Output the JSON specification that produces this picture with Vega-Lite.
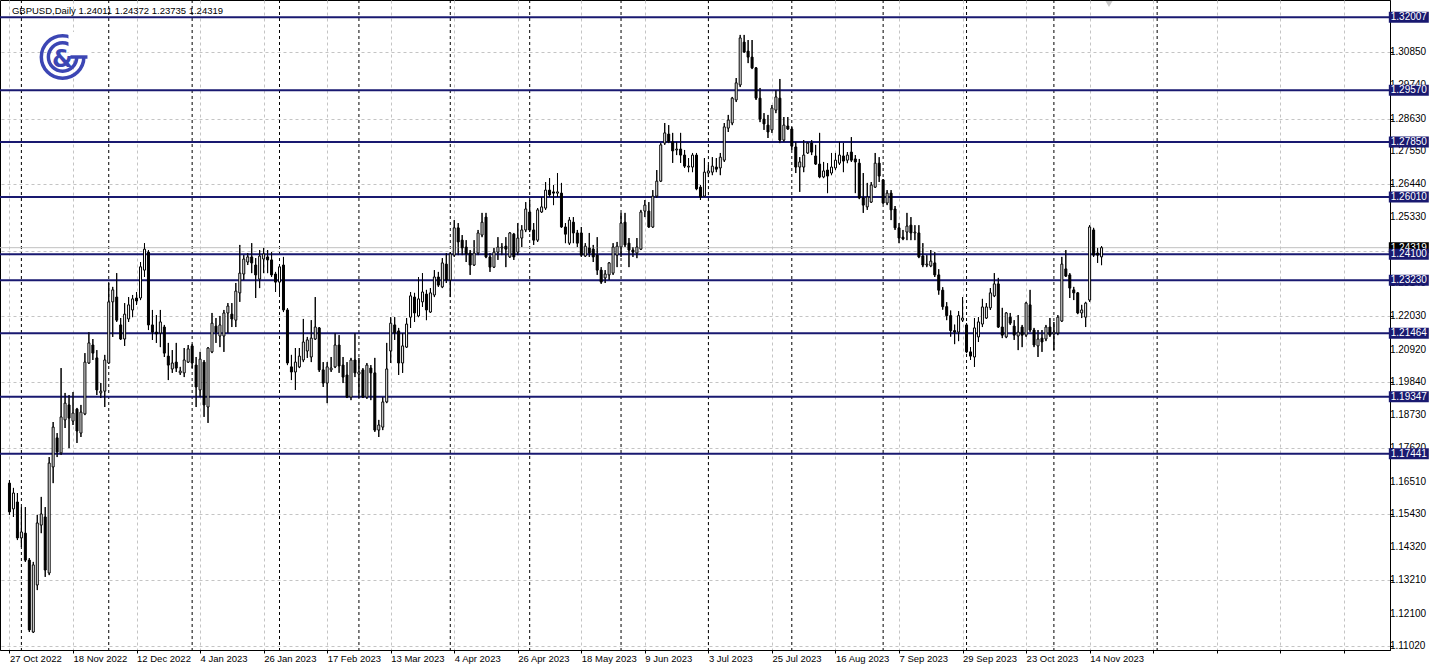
{
"$schema":"https://vega.github.io/schema/vega-lite/v6.json",
"width":1390,"height":650,
"autosize":{"type":"none"},
"padding":{"left":0,"top":0,"right":48,"bottom":21},
"background":"white",
"config":{"view":{"stroke":"black","strokeWidth":1},"font":"Liberation Sans",
 "axis":{"labelOverlap":false,"labelBound":false,"labelFlush":false}},
"datasets":{
"levels":[{"p":1.32007},{"p":1.2957},{"p":1.2785},{"p":1.2601},{"p":1.241},{"p":1.2323},{"p":1.21464},{"p":1.19347},{"p":1.17441}],
"yticks":[{"v":1.1102},{"v":1.121},{"v":1.1321},{"v":1.1432},{"v":1.1543},{"v":1.1651},{"v":1.1762},{"v":1.1873},{"v":1.1984},{"v":1.2092},{"v":1.2203},{"v":1.2314},{"v":1.2421},{"v":1.2533},{"v":1.2644},{"v":1.2755},{"v":1.2863},{"v":1.2974},{"v":1.3085},{"v":1.3196}],
"seps":[{"i":3},{"i":25},{"i":46},{"i":68},{"i":88},{"i":111},{"i":131},{"i":154},{"i":176},{"i":197},{"i":220},{"i":241},{"i":263},{"i":289}],
"candles":[
{"i":0,"o":1.1646,"h":1.1656,"l":1.154,"c":1.155},
{"i":1,"o":1.156,"h":1.163,"l":1.1533,"c":1.1613},
{"i":2,"o":1.1583,"h":1.1613,"l":1.1456,"c":1.1463},
{"i":3,"o":1.1463,"h":1.1566,"l":1.1433,"c":1.1483},
{"i":4,"o":1.1479,"h":1.1566,"l":1.1383,"c":1.1389},
{"i":5,"o":1.1389,"h":1.1396,"l":1.1149,"c":1.1156},
{"i":6,"o":1.1149,"h":1.1383,"l":1.1146,"c":1.1373},
{"i":7,"o":1.1306,"h":1.154,"l":1.1289,"c":1.1513},
{"i":8,"o":1.1506,"h":1.16,"l":1.1479,"c":1.1543},
{"i":9,"o":1.1533,"h":1.1566,"l":1.1333,"c":1.1356},
{"i":10,"o":1.1346,"h":1.1733,"l":1.1339,"c":1.1713},
{"i":11,"o":1.17,"h":1.185,"l":1.1646,"c":1.1833},
{"i":12,"o":1.1797,"h":1.1813,"l":1.1733,"c":1.175},
{"i":13,"o":1.1747,"h":1.203,"l":1.174,"c":1.1867},
{"i":14,"o":1.1857,"h":1.1947,"l":1.183,"c":1.1913},
{"i":15,"o":1.1907,"h":1.194,"l":1.1763,"c":1.1863},
{"i":16,"o":1.1853,"h":1.195,"l":1.184,"c":1.188},
{"i":17,"o":1.1893,"h":1.1897,"l":1.178,"c":1.182},
{"i":18,"o":1.1813,"h":1.1907,"l":1.18,"c":1.1883},
{"i":19,"o":1.1877,"h":1.208,"l":1.1873,"c":1.205},
{"i":20,"o":1.2047,"h":1.215,"l":1.2044,"c":1.2114},
{"i":21,"o":1.2107,"h":1.2127,"l":1.2057,"c":1.208},
{"i":22,"o":1.2064,"h":1.209,"l":1.194,"c":1.1957},
{"i":23,"o":1.1947,"h":1.198,"l":1.193,"c":1.1953},
{"i":24,"o":1.1953,"h":1.2074,"l":1.19,"c":1.2057},
{"i":25,"o":1.2047,"h":1.2314,"l":1.2044,"c":1.2251},
{"i":26,"o":1.2251,"h":1.2301,"l":1.2134,"c":1.2291},
{"i":27,"o":1.2267,"h":1.2347,"l":1.2184,"c":1.219},
{"i":28,"o":1.2174,"h":1.2197,"l":1.2124,"c":1.2127},
{"i":29,"o":1.2127,"h":1.2247,"l":1.2104,"c":1.221},
{"i":30,"o":1.2194,"h":1.2267,"l":1.2184,"c":1.2241},
{"i":31,"o":1.2224,"h":1.2274,"l":1.22,"c":1.2261},
{"i":32,"o":1.2264,"h":1.2284,"l":1.2241,"c":1.2254},
{"i":33,"o":1.2264,"h":1.2384,"l":1.2257,"c":1.2368},
{"i":34,"o":1.2357,"h":1.2447,"l":1.2334,"c":1.2427},
{"i":35,"o":1.2417,"h":1.2424,"l":1.2157,"c":1.2174},
{"i":36,"o":1.2174,"h":1.2224,"l":1.2124,"c":1.215},
{"i":37,"o":1.215,"h":1.2207,"l":1.2114,"c":1.2144},
{"i":38,"o":1.2147,"h":1.2224,"l":1.21,"c":1.2184},
{"i":39,"o":1.2167,"h":1.2174,"l":1.2067,"c":1.208},
{"i":40,"o":1.207,"h":1.2114,"l":1.199,"c":1.204},
{"i":41,"o":1.2027,"h":1.209,"l":1.2014,"c":1.2047},
{"i":42,"o":1.205,"h":1.2114,"l":1.2017,"c":1.203},
{"i":43,"o":1.2014,"h":1.2034,"l":1.2007,"c":1.202},
{"i":44,"o":1.2014,"h":1.2097,"l":1.2,"c":1.2057},
{"i":45,"o":1.205,"h":1.2107,"l":1.2047,"c":1.2094},
{"i":46,"o":1.2104,"h":1.211,"l":1.203,"c":1.2047},
{"i":47,"o":1.204,"h":1.2067,"l":1.19,"c":1.1967},
{"i":48,"o":1.1957,"h":1.2084,"l":1.1933,"c":1.206},
{"i":49,"o":1.205,"h":1.2057,"l":1.1867,"c":1.1907},
{"i":50,"o":1.19,"h":1.21,"l":1.1847,"c":1.2097},
{"i":51,"o":1.2084,"h":1.2214,"l":1.208,"c":1.218},
{"i":52,"o":1.217,"h":1.2197,"l":1.2114,"c":1.215},
{"i":53,"o":1.2137,"h":1.2204,"l":1.21,"c":1.2174},
{"i":54,"o":1.2137,"h":1.2224,"l":1.2084,"c":1.2214},
{"i":55,"o":1.2214,"h":1.2247,"l":1.2147,"c":1.2237},
{"i":56,"o":1.221,"h":1.2247,"l":1.2167,"c":1.2194},
{"i":57,"o":1.219,"h":1.2314,"l":1.2167,"c":1.2287},
{"i":58,"o":1.2281,"h":1.2441,"l":1.2251,"c":1.2347},
{"i":59,"o":1.2344,"h":1.2407,"l":1.2324,"c":1.2394},
{"i":60,"o":1.2384,"h":1.2414,"l":1.2374,"c":1.2401},
{"i":61,"o":1.2401,"h":1.2447,"l":1.2347,"c":1.2381},
{"i":62,"o":1.2374,"h":1.2397,"l":1.2264,"c":1.2341},
{"i":63,"o":1.2327,"h":1.2424,"l":1.2297,"c":1.2404},
{"i":64,"o":1.2394,"h":1.2431,"l":1.2347,"c":1.2411},
{"i":65,"o":1.2401,"h":1.2424,"l":1.2347,"c":1.2391},
{"i":66,"o":1.2391,"h":1.2417,"l":1.2334,"c":1.2341},
{"i":67,"o":1.2344,"h":1.2351,"l":1.2284,"c":1.2317},
{"i":68,"o":1.2317,"h":1.2374,"l":1.2274,"c":1.2368},
{"i":69,"o":1.2374,"h":1.2401,"l":1.2217,"c":1.2224},
{"i":70,"o":1.2224,"h":1.223,"l":1.204,"c":1.2047},
{"i":71,"o":1.2034,"h":1.2074,"l":1.199,"c":1.2017},
{"i":72,"o":1.2017,"h":1.2097,"l":1.1957,"c":1.205},
{"i":73,"o":1.2034,"h":1.2097,"l":1.203,"c":1.207},
{"i":74,"o":1.2057,"h":1.2194,"l":1.205,"c":1.2117},
{"i":75,"o":1.2087,"h":1.2134,"l":1.2064,"c":1.2124},
{"i":76,"o":1.2067,"h":1.219,"l":1.205,"c":1.213},
{"i":77,"o":1.2127,"h":1.2267,"l":1.2124,"c":1.2167},
{"i":78,"o":1.2164,"h":1.2167,"l":1.2017,"c":1.2024},
{"i":79,"o":1.2024,"h":1.205,"l":1.1967,"c":1.198},
{"i":80,"o":1.198,"h":1.205,"l":1.1913,"c":1.2034},
{"i":81,"o":1.2024,"h":1.2067,"l":1.2017,"c":1.203},
{"i":82,"o":1.2034,"h":1.2147,"l":1.203,"c":1.2107},
{"i":83,"o":1.2107,"h":1.214,"l":1.2014,"c":1.2037},
{"i":84,"o":1.204,"h":1.2067,"l":1.198,"c":1.2},
{"i":85,"o":1.2007,"h":1.205,"l":1.193,"c":1.1933},
{"i":86,"o":1.1933,"h":1.2064,"l":1.1923,"c":1.2057},
{"i":87,"o":1.2057,"h":1.2147,"l":1.2,"c":1.2014},
{"i":88,"o":1.201,"h":1.2064,"l":1.193,"c":1.2017},
{"i":89,"o":1.2024,"h":1.203,"l":1.193,"c":1.1933},
{"i":90,"o":1.1933,"h":1.2047,"l":1.1927,"c":1.204},
{"i":91,"o":1.203,"h":1.204,"l":1.1923,"c":1.2014},
{"i":92,"o":1.2014,"h":1.2064,"l":1.1817,"c":1.1823},
{"i":93,"o":1.1823,"h":1.1857,"l":1.18,"c":1.184},
{"i":94,"o":1.1833,"h":1.1933,"l":1.1823,"c":1.1917},
{"i":95,"o":1.1917,"h":1.2114,"l":1.1913,"c":1.2027},
{"i":96,"o":1.2087,"h":1.22,"l":1.2047,"c":1.218},
{"i":97,"o":1.2174,"h":1.22,"l":1.2124,"c":1.2147},
{"i":98,"o":1.2154,"h":1.2164,"l":1.2007,"c":1.2047},
{"i":99,"o":1.2047,"h":1.2147,"l":1.2014,"c":1.2104},
{"i":100,"o":1.21,"h":1.2197,"l":1.2097,"c":1.2177},
{"i":101,"o":1.22,"h":1.2284,"l":1.2164,"c":1.2271},
{"i":102,"o":1.2267,"h":1.2281,"l":1.2184,"c":1.2214},
{"i":103,"o":1.2204,"h":1.2334,"l":1.22,"c":1.2261},
{"i":104,"o":1.2251,"h":1.2347,"l":1.2234,"c":1.2284},
{"i":105,"o":1.2277,"h":1.2291,"l":1.219,"c":1.2224},
{"i":106,"o":1.2217,"h":1.2297,"l":1.2214,"c":1.2281},
{"i":107,"o":1.2274,"h":1.2357,"l":1.2267,"c":1.2334},
{"i":108,"o":1.2334,"h":1.2351,"l":1.2301,"c":1.2307},
{"i":109,"o":1.2301,"h":1.2397,"l":1.2297,"c":1.2381},
{"i":110,"o":1.2377,"h":1.2414,"l":1.2314,"c":1.2324},
{"i":111,"o":1.2324,"h":1.2417,"l":1.2267,"c":1.2411},
{"i":112,"o":1.2407,"h":1.2524,"l":1.2401,"c":1.2498},
{"i":113,"o":1.2498,"h":1.2514,"l":1.2407,"c":1.2451},
{"i":114,"o":1.2457,"h":1.2474,"l":1.2407,"c":1.2431},
{"i":115,"o":1.2434,"h":1.2457,"l":1.2384,"c":1.2411},
{"i":116,"o":1.2414,"h":1.2424,"l":1.2341,"c":1.2374},
{"i":117,"o":1.2374,"h":1.2457,"l":1.2371,"c":1.2414},
{"i":118,"o":1.2414,"h":1.2491,"l":1.2407,"c":1.2481},
{"i":119,"o":1.2474,"h":1.2548,"l":1.2467,"c":1.2517},
{"i":120,"o":1.2534,"h":1.2548,"l":1.2397,"c":1.2401},
{"i":121,"o":1.2401,"h":1.2414,"l":1.2351,"c":1.2367},
{"i":122,"o":1.2367,"h":1.2431,"l":1.2364,"c":1.2417},
{"i":123,"o":1.2417,"h":1.2467,"l":1.2391,"c":1.2434},
{"i":124,"o":1.2431,"h":1.2447,"l":1.2407,"c":1.2434},
{"i":125,"o":1.2437,"h":1.2467,"l":1.2367,"c":1.2427},
{"i":126,"o":1.2401,"h":1.2484,"l":1.2398,"c":1.2481},
{"i":127,"o":1.2477,"h":1.2481,"l":1.2391,"c":1.2401},
{"i":128,"o":1.2417,"h":1.2514,"l":1.2407,"c":1.2464},
{"i":129,"o":1.2464,"h":1.2507,"l":1.2434,"c":1.2491},
{"i":130,"o":1.2491,"h":1.2584,"l":1.2484,"c":1.2561},
{"i":131,"o":1.2551,"h":1.2591,"l":1.2484,"c":1.2491},
{"i":132,"o":1.2491,"h":1.2514,"l":1.2441,"c":1.2457},
{"i":133,"o":1.2457,"h":1.2564,"l":1.2451,"c":1.2558},
{"i":134,"o":1.2551,"h":1.2601,"l":1.2548,"c":1.2568},
{"i":135,"o":1.2564,"h":1.2651,"l":1.2558,"c":1.2624},
{"i":136,"o":1.2624,"h":1.2664,"l":1.2601,"c":1.2608},
{"i":137,"o":1.2618,"h":1.2641,"l":1.2574,"c":1.2614},
{"i":138,"o":1.2614,"h":1.2681,"l":1.2601,"c":1.2618},
{"i":139,"o":1.2614,"h":1.2648,"l":1.2498,"c":1.2501},
{"i":140,"o":1.2501,"h":1.2514,"l":1.2447,"c":1.2477},
{"i":141,"o":1.2447,"h":1.2534,"l":1.2441,"c":1.2524},
{"i":142,"o":1.2517,"h":1.2534,"l":1.2447,"c":1.2481},
{"i":143,"o":1.2481,"h":1.2491,"l":1.2434,"c":1.2447},
{"i":144,"o":1.2481,"h":1.2501,"l":1.2401,"c":1.2407},
{"i":145,"o":1.2404,"h":1.2447,"l":1.2401,"c":1.2437},
{"i":146,"o":1.2431,"h":1.2481,"l":1.2401,"c":1.2414},
{"i":147,"o":1.2427,"h":1.2441,"l":1.2384,"c":1.2401},
{"i":148,"o":1.2407,"h":1.2467,"l":1.2341,"c":1.2357},
{"i":149,"o":1.2357,"h":1.2367,"l":1.2311,"c":1.2317},
{"i":150,"o":1.2331,"h":1.2357,"l":1.2314,"c":1.2344},
{"i":151,"o":1.2341,"h":1.2384,"l":1.2324,"c":1.2381},
{"i":152,"o":1.2347,"h":1.2447,"l":1.2341,"c":1.2434},
{"i":153,"o":1.2407,"h":1.2451,"l":1.2367,"c":1.2437},
{"i":154,"o":1.2434,"h":1.2548,"l":1.2401,"c":1.2514},
{"i":155,"o":1.2517,"h":1.2548,"l":1.2434,"c":1.2441},
{"i":156,"o":1.2447,"h":1.2464,"l":1.2367,"c":1.2424},
{"i":157,"o":1.2424,"h":1.2434,"l":1.2401,"c":1.2417},
{"i":158,"o":1.2414,"h":1.2464,"l":1.2397,"c":1.2434},
{"i":159,"o":1.2427,"h":1.2558,"l":1.2424,"c":1.2551},
{"i":160,"o":1.2554,"h":1.2591,"l":1.2534,"c":1.2574},
{"i":161,"o":1.2554,"h":1.2584,"l":1.2498,"c":1.2501},
{"i":162,"o":1.2501,"h":1.2624,"l":1.2498,"c":1.2604},
{"i":163,"o":1.2604,"h":1.2691,"l":1.2598,"c":1.2654},
{"i":164,"o":1.2654,"h":1.2781,"l":1.2651,"c":1.2775},
{"i":165,"o":1.2781,"h":1.2848,"l":1.2775,"c":1.2815},
{"i":166,"o":1.2811,"h":1.2841,"l":1.2781,"c":1.2785},
{"i":167,"o":1.2785,"h":1.2815,"l":1.2715,"c":1.2755},
{"i":168,"o":1.2758,"h":1.2785,"l":1.2741,"c":1.2761},
{"i":169,"o":1.2761,"h":1.2815,"l":1.2715,"c":1.2741},
{"i":170,"o":1.2741,"h":1.2758,"l":1.2698,"c":1.2704},
{"i":171,"o":1.2701,"h":1.2731,"l":1.2684,"c":1.2704},
{"i":172,"o":1.2701,"h":1.2748,"l":1.2684,"c":1.2741},
{"i":173,"o":1.2741,"h":1.2748,"l":1.2624,"c":1.2628},
{"i":174,"o":1.2634,"h":1.2641,"l":1.2591,"c":1.2601},
{"i":175,"o":1.2604,"h":1.2731,"l":1.2601,"c":1.2684},
{"i":176,"o":1.2681,"h":1.2708,"l":1.2668,"c":1.2688},
{"i":177,"o":1.2684,"h":1.2734,"l":1.2674,"c":1.2704},
{"i":178,"o":1.2701,"h":1.2731,"l":1.2684,"c":1.2694},
{"i":179,"o":1.2698,"h":1.2748,"l":1.2674,"c":1.2734},
{"i":180,"o":1.2724,"h":1.2848,"l":1.2718,"c":1.2835},
{"i":181,"o":1.2831,"h":1.2875,"l":1.2818,"c":1.2858},
{"i":182,"o":1.2848,"h":1.2935,"l":1.2841,"c":1.2931},
{"i":183,"o":1.2925,"h":1.2998,"l":1.2918,"c":1.2982},
{"i":184,"o":1.2975,"h":1.3142,"l":1.2968,"c":1.3132},
{"i":185,"o":1.3118,"h":1.3142,"l":1.3082,"c":1.3085},
{"i":186,"o":1.3088,"h":1.3125,"l":1.3048,"c":1.3068},
{"i":187,"o":1.3068,"h":1.3125,"l":1.3028,"c":1.3032},
{"i":188,"o":1.3032,"h":1.3035,"l":1.2925,"c":1.2931},
{"i":189,"o":1.2931,"h":1.2965,"l":1.2851,"c":1.2861},
{"i":190,"o":1.2861,"h":1.2881,"l":1.2825,"c":1.2845},
{"i":191,"o":1.2841,"h":1.2875,"l":1.2798,"c":1.2818},
{"i":192,"o":1.2825,"h":1.2908,"l":1.2815,"c":1.2898},
{"i":193,"o":1.2891,"h":1.2958,"l":1.2881,"c":1.2935},
{"i":194,"o":1.2931,"h":1.2995,"l":1.2781,"c":1.2791},
{"i":195,"o":1.2791,"h":1.2868,"l":1.2785,"c":1.2841},
{"i":196,"o":1.2838,"h":1.2868,"l":1.2825,"c":1.2828},
{"i":197,"o":1.2828,"h":1.2835,"l":1.2758,"c":1.2771},
{"i":198,"o":1.2768,"h":1.2785,"l":1.2681,"c":1.2701},
{"i":199,"o":1.2701,"h":1.2734,"l":1.2618,"c":1.2718},
{"i":200,"o":1.2701,"h":1.2791,"l":1.2684,"c":1.2741},
{"i":201,"o":1.2748,"h":1.2785,"l":1.2745,"c":1.2781},
{"i":202,"o":1.2781,"h":1.2791,"l":1.2741,"c":1.2751},
{"i":203,"o":1.2738,"h":1.2775,"l":1.2708,"c":1.2711},
{"i":204,"o":1.2711,"h":1.2815,"l":1.2664,"c":1.2668},
{"i":205,"o":1.2668,"h":1.2718,"l":1.2664,"c":1.2688},
{"i":206,"o":1.2691,"h":1.2714,"l":1.2614,"c":1.2671},
{"i":207,"o":1.2681,"h":1.2748,"l":1.2674,"c":1.2701},
{"i":208,"o":1.2698,"h":1.2748,"l":1.2691,"c":1.2724},
{"i":209,"o":1.2714,"h":1.2785,"l":1.2708,"c":1.2741},
{"i":210,"o":1.2738,"h":1.2781,"l":1.2684,"c":1.2721},
{"i":211,"o":1.2724,"h":1.2751,"l":1.2714,"c":1.2741},
{"i":212,"o":1.2751,"h":1.2801,"l":1.2718,"c":1.2724},
{"i":213,"o":1.2728,"h":1.2741,"l":1.2614,"c":1.2718},
{"i":214,"o":1.2714,"h":1.2728,"l":1.2594,"c":1.2598},
{"i":215,"o":1.2598,"h":1.2681,"l":1.2548,"c":1.2574},
{"i":216,"o":1.2568,"h":1.2648,"l":1.2558,"c":1.2601},
{"i":217,"o":1.2584,"h":1.2651,"l":1.2581,"c":1.2641},
{"i":218,"o":1.2634,"h":1.2748,"l":1.2631,"c":1.2714},
{"i":219,"o":1.2714,"h":1.2734,"l":1.2651,"c":1.2671},
{"i":220,"o":1.2658,"h":1.2661,"l":1.2578,"c":1.2581},
{"i":221,"o":1.2581,"h":1.2624,"l":1.2574,"c":1.2614},
{"i":222,"o":1.2614,"h":1.2624,"l":1.2524,"c":1.2558},
{"i":223,"o":1.2561,"h":1.2571,"l":1.2491,"c":1.2498},
{"i":224,"o":1.2498,"h":1.2514,"l":1.2447,"c":1.2464},
{"i":225,"o":1.2467,"h":1.2491,"l":1.2457,"c":1.2461},
{"i":226,"o":1.2484,"h":1.2548,"l":1.2457,"c":1.2504},
{"i":227,"o":1.2507,"h":1.2534,"l":1.2457,"c":1.2481},
{"i":228,"o":1.2481,"h":1.2507,"l":1.2457,"c":1.2484},
{"i":229,"o":1.2481,"h":1.2507,"l":1.2397,"c":1.2401},
{"i":230,"o":1.2404,"h":1.2447,"l":1.2367,"c":1.2374},
{"i":231,"o":1.2374,"h":1.2407,"l":1.2367,"c":1.2377},
{"i":232,"o":1.2371,"h":1.2424,"l":1.2367,"c":1.2387},
{"i":233,"o":1.2381,"h":1.2417,"l":1.2334,"c":1.2341},
{"i":234,"o":1.2341,"h":1.236,"l":1.2275,"c":1.229},
{"i":235,"o":1.229,"h":1.23,"l":1.2225,"c":1.2235},
{"i":236,"o":1.2235,"h":1.225,"l":1.219,"c":1.2205},
{"i":237,"o":1.2205,"h":1.2222,"l":1.2135,"c":1.2155},
{"i":238,"o":1.2155,"h":1.2175,"l":1.211,"c":1.215},
{"i":239,"o":1.215,"h":1.222,"l":1.212,"c":1.2205},
{"i":240,"o":1.219,"h":1.2267,"l":1.2184,"c":1.2197},
{"i":241,"o":1.2174,"h":1.218,"l":1.208,"c":1.2084},
{"i":242,"o":1.2084,"h":1.21,"l":1.2057,"c":1.207},
{"i":243,"o":1.2067,"h":1.2197,"l":1.2034,"c":1.2164},
{"i":244,"o":1.2134,"h":1.22,"l":1.2117,"c":1.2184},
{"i":245,"o":1.2177,"h":1.2261,"l":1.2167,"c":1.2234},
{"i":246,"o":1.2197,"h":1.2247,"l":1.2194,"c":1.2234},
{"i":247,"o":1.2231,"h":1.2297,"l":1.2224,"c":1.2281},
{"i":248,"o":1.2271,"h":1.2347,"l":1.2267,"c":1.2311},
{"i":249,"o":1.2311,"h":1.2331,"l":1.2164,"c":1.2167},
{"i":250,"o":1.2167,"h":1.2231,"l":1.213,"c":1.214},
{"i":251,"o":1.2134,"h":1.2217,"l":1.213,"c":1.2214},
{"i":252,"o":1.22,"h":1.2214,"l":1.2174,"c":1.218},
{"i":253,"o":1.217,"h":1.219,"l":1.2124,"c":1.214},
{"i":254,"o":1.2137,"h":1.2207,"l":1.209,"c":1.215},
{"i":255,"o":1.2167,"h":1.2174,"l":1.21,"c":1.214},
{"i":256,"o":1.214,"h":1.2251,"l":1.2134,"c":1.2247},
{"i":257,"o":1.2241,"h":1.2291,"l":1.215,"c":1.2157},
{"i":258,"o":1.2157,"h":1.2164,"l":1.21,"c":1.2107},
{"i":259,"o":1.2104,"h":1.2157,"l":1.2067,"c":1.2127},
{"i":260,"o":1.213,"h":1.2157,"l":1.2084,"c":1.2117},
{"i":261,"o":1.2127,"h":1.2174,"l":1.212,"c":1.2167},
{"i":262,"o":1.2167,"h":1.2197,"l":1.2134,"c":1.214},
{"i":263,"o":1.2144,"h":1.2184,"l":1.209,"c":1.215},
{"i":264,"o":1.2147,"h":1.2207,"l":1.214,"c":1.22},
{"i":265,"o":1.2187,"h":1.2401,"l":1.2184,"c":1.2377},
{"i":266,"o":1.2361,"h":1.2424,"l":1.2334,"c":1.2337},
{"i":267,"o":1.2341,"h":1.2347,"l":1.2264,"c":1.2297},
{"i":268,"o":1.2291,"h":1.2301,"l":1.2257,"c":1.2281},
{"i":269,"o":1.2281,"h":1.2284,"l":1.221,"c":1.2214},
{"i":270,"o":1.2214,"h":1.2241,"l":1.2197,"c":1.2224},
{"i":271,"o":1.22,"h":1.2251,"l":1.2167,"c":1.2247},
{"i":272,"o":1.2257,"h":1.2507,"l":1.2251,"c":1.2501},
{"i":273,"o":1.2491,"h":1.2498,"l":1.2401,"c":1.2407},
{"i":274,"o":1.2414,"h":1.2431,"l":1.2381,"c":1.2407},
{"i":275,"o":1.24011,"h":1.24372,"l":1.23735,"c":1.24319}
]},
"layer":[
{"data":{"name":"candles"},"mark":{"type":"rule","color":"black","strokeWidth":1},
 "encoding":{
  "x":{"field":"i","type":"quantitative","scale":{"domain":[-1.125,346.375],"nice":false,"zero":false},
   "axis":{"values":[0,8,16,24,32,40,48,56,64,72,80,88,96,104,112,120,128,136,144,152,160,168,176,184,192,200,208,216,224,232,240,248,256,264,272,280,288,296,304,312,320,328,336,344],
    "labelExpr":"datum.value % 16 == 0 && datum.value <= 272 ? ['27 Oct 2022','18 Nov 2022','12 Dec 2022','4 Jan 2023','26 Jan 2023','17 Feb 2023','13 Mar 2023','4 Apr 2023','26 Apr 2023','18 May 2023','9 Jun 2023','3 Jul 2023','25 Jul 2023','16 Aug 2023','7 Sep 2023','29 Sep 2023','23 Oct 2023','14 Nov 2023'][datum.value/16] : ''",
    "labelAlign":"left","labelBaseline":"top","labelPadding":0,"labelFont":"Liberation Sans","labelFontSize":9.5,"labelColor":"black",
    "labelOverlap":false,"labelFlush":false,"labelBound":false,"tickSize":3,"tickColor":"black","domainColor":"black",
    "grid":true,"gridColor":"#c4c4c4","gridDash":[3,3],"gridWidth":1,"title":null}},
  "y":{"field":"l","type":"quantitative","scale":{"domain":[1.1089,1.32586],"nice":false,"zero":false},
   "axis":{"orient":"right","values":[1.1102,1.121,1.1321,1.1432,1.1543,1.1651,1.1762,1.1873,1.1984,1.2092,1.2203,1.2314,1.2421,1.2533,1.2644,1.2755,1.2863,1.2974,1.3085,1.3196],
    "labels":false,"tickSize":3,"tickColor":"black","domainColor":"black",
    "grid":true,"gridColor":"#c4c4c4","gridDash":[3,3],"gridWidth":1,"title":null}},
  "y2":{"field":"h"}}},
{"data":{"name":"seps"},"mark":{"type":"rule","color":"black","strokeWidth":1,"strokeDash":[3,3]},
 "encoding":{"x":{"field":"i","type":"quantitative","title":null}}},
{"data":{"name":"levels"},"mark":{"type":"rule","color":"#191970","strokeWidth":2},
 "encoding":{"y":{"field":"p","type":"quantitative","title":null}}},
{"data":{"name":"candles"},"transform":[{"filter":"datum.i == 275"}],"mark":{"type":"rule","color":"#c0c0c0","strokeWidth":1},
 "encoding":{"y":{"field":"c","type":"quantitative","title":null}}},
{"data":{"name":"candles"},"mark":{"type":"rule","color":"black","strokeWidth":1},
 "encoding":{
  "x":{"field":"i","type":"quantitative","title":null},
  "y":{"field":"l","type":"quantitative","title":null},
  "y2":{"field":"h"}}},
{"data":{"name":"candles"},"mark":{"type":"bar","size":2,"strokeWidth":1,"stroke":"black"},
 "encoding":{
  "x":{"field":"i","type":"quantitative","title":null},
  "y":{"field":"o","type":"quantitative","title":null},
  "y2":{"field":"c"},
  "fill":{"condition":{"test":"datum.c >= datum.o","value":"white"},"value":"black"}}},
{"data":{"name":"yticks"},"mark":{"type":"text","color":"black","font":"Liberation Sans","fontSize":10,"align":"left","baseline":"middle"},
 "encoding":{"x":{"datum":347.625,"type":"quantitative","title":null},
  "y":{"field":"v","type":"quantitative","title":null},
  "text":{"field":"v","format":".5f"}}},
{"data":{"name":"candles"},"transform":[{"filter":"datum.i == 275"}],"mark":{"type":"tick","orient":"horizontal","size":40,"thickness":11,"color":"black","opacity":1},
 "encoding":{"x":{"datum":352.375,"type":"quantitative","title":null},
  "y":{"field":"c","type":"quantitative","title":null}}},
{"data":{"name":"candles"},"transform":[{"filter":"datum.i == 275"}],"mark":{"type":"text","color":"white","font":"Liberation Sans","fontSize":10,"align":"center","baseline":"middle"},
 "encoding":{"x":{"datum":352.375,"type":"quantitative","title":null},
  "y":{"field":"c","type":"quantitative","title":null},
  "text":{"field":"c","format":".5f"}}},
{"data":{"name":"levels"},"mark":{"type":"tick","orient":"horizontal","size":40,"thickness":11,"color":"#191970","opacity":1},
 "encoding":{"x":{"datum":352.375,"type":"quantitative","title":null},
  "y":{"field":"p","type":"quantitative","title":null}}},
{"data":{"name":"levels"},"mark":{"type":"text","color":"white","font":"Liberation Sans","fontSize":10,"align":"center","baseline":"middle"},
 "encoding":{"x":{"datum":352.375,"type":"quantitative","title":null},
  "y":{"field":"p","type":"quantitative","title":null},
  "text":{"field":"p","format":".5f"}}},
{"data":{"values":[{"t":"GBPUSD,Daily  1.24011 1.24372 1.23735 1.24319"}]},"mark":{"type":"text","color":"black","font":"Liberation Sans","fontSize":9.5,"align":"left","baseline":"middle"},
 "encoding":{"x":{"datum":0.625,"type":"quantitative","title":null},
  "y":{"datum":1.32218,"type":"quantitative","title":null},
  "text":{"field":"t"}}},
{"data":{"values":[{"logo":"outer"}]},"mark":{"type":"point","shape":"circle","size":1810,"filled":false,"stroke":"#3c46b4","strokeWidth":3.5,"opacity":1},
 "encoding":{"x":{"datum":13.375,"type":"quantitative","title":null},
  "y":{"datum":1.30683,"type":"quantitative","title":null}}},
{"data":{"values":[{"logo":"inner"}]},"mark":{"type":"point","shape":"circle","size":804,"filled":false,"stroke":"#3c46b4","strokeWidth":3.5,"opacity":1},
 "encoding":{"x":{"datum":13.375,"type":"quantitative","title":null},
  "y":{"datum":1.30683,"type":"quantitative","title":null}}},
{"data":{"values":[{"logo":"cut"}]},"mark":{"type":"tick","orient":"horizontal","size":22,"thickness":24,"color":"white","opacity":1},
 "encoding":{"x":{"datum":17.625,"type":"quantitative","title":null},
  "y":{"datum":1.31117,"type":"quantitative","title":null}}},
{"data":{"values":[{"logo":"bar"}]},"mark":{"type":"tick","orient":"horizontal","size":17,"thickness":3.5,"color":"#3c46b4","opacity":1},
 "encoding":{"x":{"datum":17.5,"type":"quantitative","title":null},
  "y":{"datum":1.30683,"type":"quantitative","title":null}}},
{"data":{"values":[{"t":"&"}]},"mark":{"type":"text","color":"#3c46b4","font":"DejaVu Sans","fontSize":24,"fontWeight":"bold","align":"center","baseline":"middle"},
 "encoding":{"x":{"datum":13.375,"type":"quantitative","title":null},
  "y":{"datum":1.30583,"type":"quantitative","title":null},
  "text":{"field":"t"}}},
{"data":{"values":[{"m":"shift"}]},"mark":{"type":"point","shape":"triangle-down","size":50,"filled":true,"color":"#c8c8c8","opacity":1},
 "encoding":{"x":{"datum":276.875,"type":"quantitative","title":null},
  "y":{"datum":1.32452,"type":"quantitative","title":null}}}
]
}
